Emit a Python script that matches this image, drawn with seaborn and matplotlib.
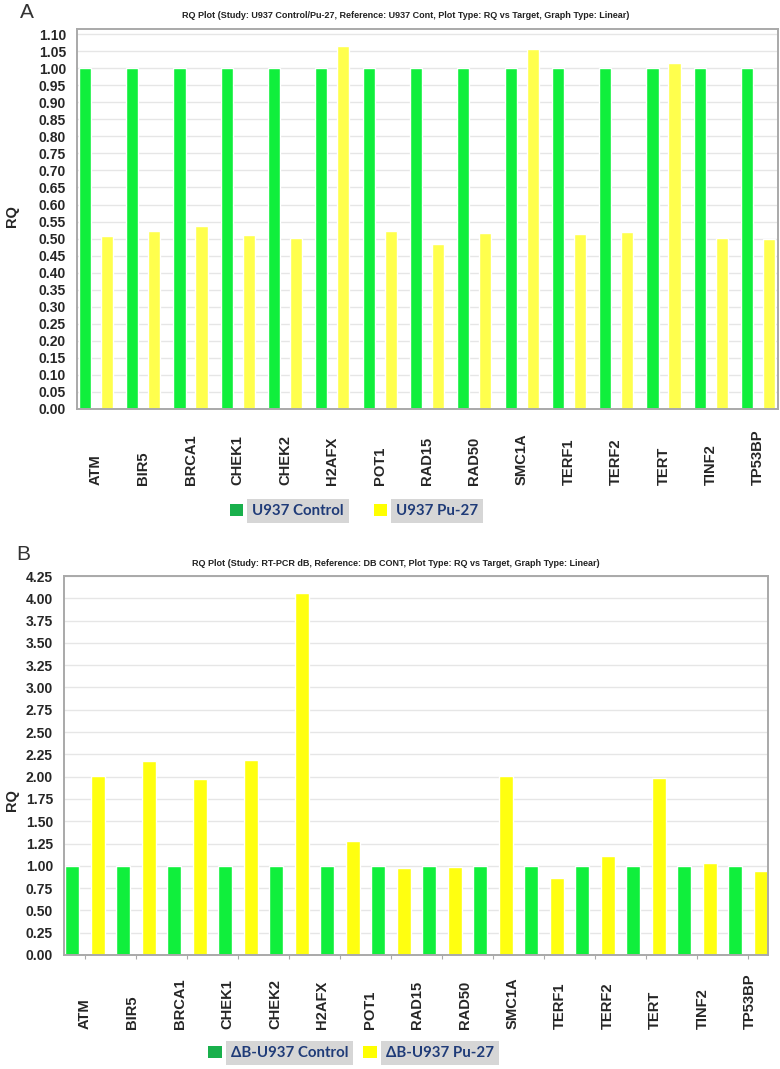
import matplotlib
matplotlib.use('Agg')
import numpy as np
import pandas as pd
import matplotlib.pyplot as plt
import matplotlib.transforms as mtransforms
from matplotlib.patches import Patch
import seaborn as sns

# targets (x labels, both panels)
genes = ['ATM', 'BIR5', 'BRCA1', 'CHEK1', 'CHEK2', 'H2AFX', 'POT1', 'RAD15',
         'RAD50', 'SMC1A', 'TERF1', 'TERF2', 'TERT', 'TINF2', 'TP53BP']

# panel A: RQ values
a_control = [1.0, 1.0, 1.0, 1.0, 1.0, 1.0, 1.0, 1.0, 1.0, 1.0, 1.0, 1.0, 1.0, 1.0, 1.0]
a_pu27 = [0.509, 0.521, 0.538, 0.512, 0.501, 1.064, 0.521, 0.485, 0.516, 1.055,
          0.514, 0.520, 1.015, 0.503, 0.499]

# panel B: the picture shows 14 bar pairs under 15 labels
b_groups = ['1', '2', '3', '4', '5', '6', '7', '8', '9', '10', '11', '12', '13', '14']
b_control = [1.0, 1.0, 1.0, 1.0, 1.0, 1.0, 1.0, 1.0, 1.0, 1.0, 1.0, 1.0, 1.0, 1.0]
b_pu27 = [2.01, 2.17, 1.97, 2.19, 4.06, 1.28, 0.97, 0.99, 2.01, 0.86, 1.105, 1.99, 1.03, 0.947]

a_series = ['U937 Control', 'U937 Pu-27']
b_series = ['ΔB-U937 Control', 'ΔB-U937 Pu-27']

title_a = 'RQ Plot (Study: U937 Control/Pu-27, Reference: U937 Cont, Plot Type: RQ vs Target, Graph Type: Linear)'
title_b = 'RQ Plot (Study: RT-PCR dB, Reference: DB CONT, Plot Type: RQ vs Target, Graph Type: Linear)'

green, yellow_a, yellow_b = '#10ef3c', '#ffff4d', '#ffff10'
legend_green, legend_yellow = '#19b04c', '#ffff00'
navy = '#1f3b78'

sns.set_style('white')
plt.rcParams['font.family'] = ['Liberation Sans', 'DejaVu Sans']

dfA = pd.DataFrame({'target': genes + genes,
                    'sample': [a_series[0]] * len(genes) + [a_series[1]] * len(genes),
                    'rq': a_control + a_pu27})
dfB = pd.DataFrame({'target': b_groups + b_groups,
                    'sample': [b_series[0]] * len(b_groups) + [b_series[1]] * len(b_groups),
                    'rq': b_control + b_pu27})

fig = plt.figure(figsize=(7.8, 10.69), dpi=100)
W, H = 780, 1069
axA = fig.add_axes([77 / W, 1 - 409 / H, 701 / W, 380 / H])
axB = fig.add_axes([64 / W, 1 - 955 / H, 704 / W, 379 / H])

sns.barplot(data=dfA, x='target', y='rq', hue='sample', palette=[green, yellow_a],
            width=0.93, gap=0.45, saturation=1, errorbar=None, legend=False, ax=axA)
sns.barplot(data=dfB, x='target', y='rq', hue='sample', palette=[green, yellow_b],
            width=1.02, gap=0.46, saturation=1, errorbar=None, legend=False, ax=axB)

down = mtransforms.ScaledTranslation(0, -0.03, fig.dpi_scale_trans)


def style(ax, ymax, ticks):
    ax.set_ylim(0, ymax)
    ax.set_yticks(ticks)
    ax.set_yticklabels([f'{t:.2f}' for t in ticks], fontsize=10, fontweight='bold')
    for lbl in ax.get_yticklabels():
        lbl.set_transform(lbl.get_transform() + down)
    ax.yaxis.grid(True, color='#e6e6e6', lw=1)
    ax.set_axisbelow(True)
    ax.set_xlabel('')
    ax.set_ylabel('')
    ax.tick_params(axis='y', length=0, pad=8)
    for s in ax.spines.values():
        s.set_color('#a9a9a9')
        s.set_linewidth(1.4)


style(axA, 1.115, np.arange(0, 1.1001, 0.05))
style(axB, 4.25, np.arange(0, 4.2501, 0.25))

axA.set_xlim(-0.40, 14.42)
axA.set_xticks(range(len(genes)))
axA.set_xticklabels(genes, rotation=90, va='bottom', fontsize=10.6, fontweight='bold')
axA.tick_params(axis='x', length=3, color='#aaaaaa', pad=52)

axB.set_xlim(-0.41, 13.39)
axB.set_xticks(range(len(b_groups)))
axB.set_xticklabels([])
axB.tick_params(axis='x', length=3, color='#aaaaaa')
axB2 = axB.twiny()
axB2.xaxis.set_ticks_position('bottom')
axB2.set_xlim(-0.44, 14.38)
axB2.set_xticks(range(len(genes)))
axB2.set_xticklabels(genes, rotation=90, va='bottom', fontsize=10.6, fontweight='bold')
axB2.tick_params(axis='x', length=0, pad=53)
for s in axB2.spines.values():
    s.set_visible(False)

# titles, panel letters, axis labels
fig.text(406 / W, 1 - 16 / H, title_a, ha='center', va='center', fontsize=6.5, fontweight='bold', color='#222222')
fig.text(396 / W, 1 - 563 / H, title_b, ha='center', va='center', fontsize=6.5, fontweight='bold', color='#222222')
fig.text(27 / W, 1 - 13 / H, 'A', ha='center', va='center', fontsize=15, color='#333333')
fig.text(23 / W, 1 - 555 / H, 'B', ha='center', va='center', fontsize=15, color='#333333')
fig.text(12 / W, 1 - 216 / H, 'RQ', rotation=90, ha='center', va='center', fontsize=10.5, fontweight='bold')
fig.text(12 / W, 1 - 800 / H, 'RQ', rotation=90, ha='center', va='center', fontsize=10.5, fontweight='bold')


def add_legend(labels, center, colspace):
    handles = [Patch(facecolor=legend_green, edgecolor='none'),
               Patch(facecolor=legend_yellow, edgecolor='none')]
    leg = fig.legend(handles, labels, loc='center', bbox_to_anchor=center, ncol=2,
                     frameon=False, handlelength=0.9, handleheight=0.9,
                     handletextpad=0.6, columnspacing=colspace,
                     prop={'family': ['Lato', 'DejaVu Sans'], 'weight': 'bold', 'size': 10.8})
    for t in leg.get_texts():
        t.set_color(navy)
        t.set_bbox(dict(facecolor='#d6d6d6', edgecolor='none', boxstyle='square,pad=0.33'))
    return leg


add_legend(a_series, (354 / W, 1 - 511 / H), 2.0)
add_legend(b_series, (351 / W, 1 - 1053 / H), 1.0)

fig.savefig('out.png', dpi=100)
